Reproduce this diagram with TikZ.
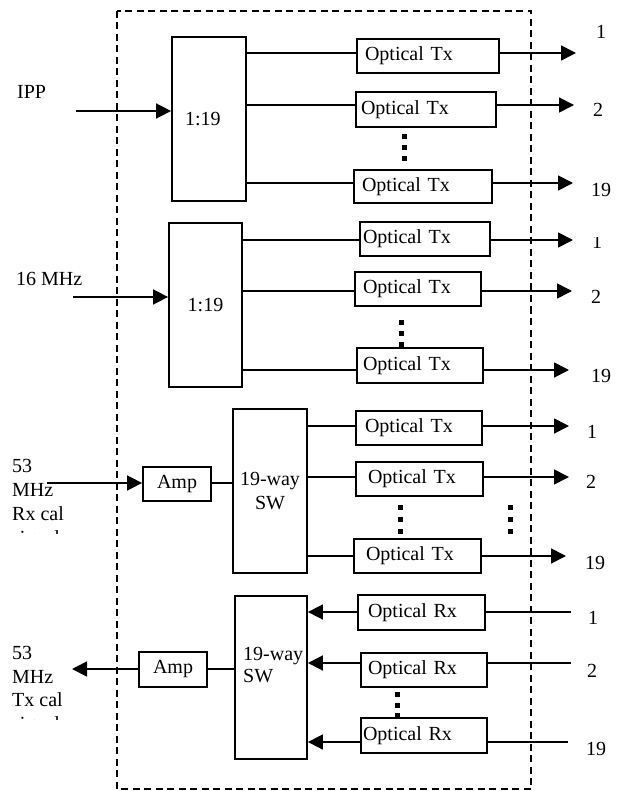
\documentclass[tikz,border=0pt]{standalone}
\usepackage{fontspec}
\setmainfont{Liberation Serif}
\usetikzlibrary{arrows.meta}
\newcommand\mydots[3]{\foreach \k in {0,1,2}{\fill (#1-2.5,#2+\k*#3) rectangle ++(5,5);}}
\begin{document}
\begin{tikzpicture}[x=1pt,y=-1pt,
  every node/.style={font=\fontsize{20}{24}\selectfont},
  ln/.style={line width=1.7pt},
  arr/.style={line width=1.7pt,-{Triangle[length=15pt,width=15pt]}},
  blk/.style={draw,line width=1.8pt,inner sep=0pt,minimum height=164pt,align=center},
  obox/.style={draw,line width=1.8pt,minimum height=34pt,align=left},
  abox/.style={draw,line width=1.8pt,minimum width=68pt,minimum height=34pt,inner sep=0pt},
  txt/.style={inner sep=0pt,anchor=base west},
  outerframe/.style={line width=1.6pt,dash pattern=on 7pt off 4.5pt},
]
\useasboundingbox (0,0) rectangle (627,791);
\draw[outerframe] (117,11) rectangle (531,789);

% ---------- Section 1: IPP ----------
\node[blk,minimum width=74pt,text width=48pt,inner xsep=13pt,align=left] (s1) at (209,119) {1:19};
\node[obox,minimum width=142pt,text width=126pt,inner xsep=8pt] (t11) at (428,56) {Optical Tx};
\node[obox,minimum width=140pt,minimum height=35pt,text width=130pt,inner xsep=5pt] (t12) at (426,109.5) {Optical Tx};
\node[obox,minimum width=138pt,minimum height=33pt,text width=122pt,inner xsep=8pt] (t13) at (423,186.5) {Optical Tx};
\coordinate (i1) at (76,111);
\coordinate (o11) at (576,53);
\coordinate (o12) at (574,105);
\coordinate (o13) at (573,183);
\draw[arr] (i1) -- (i1 -| s1.west);
\draw[ln] (s1.east |- o11) -- (t11.west |- o11);
\draw[ln] (s1.east |- o12) -- (t12.west |- o12);
\draw[ln] (s1.east |- o13) -- (t13.west |- o13);
\draw[arr] (t11.east |- o11) -- (o11);
\draw[arr] (t12.east |- o12) -- (o12);
\draw[arr] (t13.east |- o13) -- (o13);
\node[txt] (lipp) at (17,99) {IPP};
\node[txt] (n11) at (596,39) {1};
\node[txt] (n12) at (593,117) {2};
\node[txt] (n13) at (591,197) {19};
\mydots{404}{134}{11}

% ---------- Section 2: 16 MHz ----------
\node[blk,minimum width=73pt] (s2) at (205.5,305) {1:19};
\node[obox,minimum width=130pt,text width=124pt,inner xsep=3pt] (t21) at (425,239) {Optical Tx};
\node[obox,minimum width=126pt,text width=110pt,inner xsep=8pt] (t22) at (418,289) {Optical Tx};
\node[obox,minimum width=126pt,minimum height=35pt,text width=114pt,inner xsep=6pt] (t23) at (420,365.5) {Optical Tx};
\coordinate (i2) at (73,297);
\coordinate (o21) at (573,240);
\coordinate (o22) at (572,291);
\coordinate (o23) at (569,370);
\draw[arr] (i2) -- (i2 -| s2.west);
\draw[ln] (s2.east |- o21) -- (t21.west |- o21);
\draw[ln] (s2.east |- o22) -- (t22.west |- o22);
\draw[ln] (s2.east |- o23) -- (t23.west |- o23);
\draw[arr] (t21.east |- o21) -- (o21);
\draw[arr] (t22.east |- o22) -- (o22);
\draw[arr] (t23.east |- o23) -- (o23);
\node[txt] (l16) at (16,285) {16 MHz};
\begin{scope}
  \clip (580,238) rectangle (620,260);
  \node[txt] (n21) at (592,248) {1};
\end{scope}
\node[txt] (n22) at (591,303) {2};
\node[txt] (n23) at (591,382) {19};
\mydots{401}{320}{11}

% ---------- Section 3: 53 MHz Rx cal ----------
\node[abox] (a3) at (177,484) {Amp};
\node[blk,minimum width=74pt] (w3) at (270,491) {19-way\\SW};
\node[obox,minimum width=126pt,text width=108pt,inner xsep=9pt] (t31) at (419,428) {Optical Tx};
\node[obox,minimum width=127pt,text width=103pt,inner xsep=12pt] (t32) at (419.5,479) {Optical Tx};
\node[obox,minimum width=127pt,text width=103pt,inner xsep=12pt] (t33) at (417.5,556) {Optical Tx};
\coordinate (i3) at (47,483);
\coordinate (o31) at (569,426);
\coordinate (o32) at (569,477);
\coordinate (o33) at (566,556);
\draw[arr] (i3) -- (a3.west |- i3);
\draw[ln] (a3.east |- i3) -- (w3.west |- i3);
\draw[ln] (w3.east |- o31) -- (t31.west |- o31);
\draw[ln] (w3.east |- o32) -- (t32.west |- o32);
\draw[ln] (w3.east |- o33) -- (t33.west |- o33);
\draw[arr] (t31.east |- o31) -- (o31);
\draw[arr] (t32.east |- o32) -- (o32);
\draw[arr] (t33.east |- o33) -- (o33);
\node[txt] (l3a) at (12,472) {53};
\node[txt] (l3b) at (12,496) {MHz};
\node[txt] (l3c) at (12,520) {Rx cal};
\begin{scope}
  \clip (0,522) rectangle (110,533);
  \node[txt] (l3d) at (12,544) {signal};
\end{scope}
\node[txt] (n31) at (587,438) {1};
\node[txt] (n32) at (586,488) {2};
\node[txt] (n33) at (585,569) {19};
\mydots{400}{505}{12}
\mydots{510}{505}{12}

% ---------- Section 4: 53 MHz Tx cal ----------
\node[abox,minimum height=35pt] (a4) at (173,669.5) {Amp};
\node[blk,minimum width=72pt,minimum height=163pt] (w4) at (271,677.5) {};
\node[txt] (w4a) at (243,660) {19-way};
\node[txt] (w4b) at (243,682) {SW};
\node[obox,minimum width=127pt,minimum height=35pt,text width=107pt,inner xsep=10pt] (r41) at (421.5,612.5) {Optical Rx};
\node[obox,minimum width=126pt,text width=112pt,inner xsep=7pt] (r42) at (424,670) {Optical Rx};
\node[obox,minimum width=126pt,minimum height=35pt,text width=122pt,inner xsep=2pt] (r43) at (424,735.5) {Optical Rx};
\coordinate (e41) at (571,612);
\coordinate (e42) at (571,663);
\coordinate (e43) at (568,742);
\coordinate (o4) at (72,669);
\draw[ln] (e41) -- (r41.east |- e41);
\draw[ln] (e42) -- (r42.east |- e42);
\draw[ln] (e43) -- (r43.east |- e43);
\draw[arr] (r41.west |- e41) -- (w4.east |- e41);
\draw[arr] (r42.west |- e42) -- (w4.east |- e42);
\draw[arr] (r43.west |- e43) -- (w4.east |- e43);
\draw[ln] (w4.west |- o4) -- (a4.east |- o4);
\draw[arr] (a4.west |- o4) -- (o4);
\node[txt] (l4a) at (12,659) {53};
\node[txt] (l4b) at (12,683) {MHz};
\node[txt] (l4c) at (12,706) {Tx cal};
\begin{scope}
  \clip (0,708) rectangle (110,719);
  \node[txt] (l4d) at (12,730) {signal};
\end{scope}
\node[txt] (n41) at (588,624) {1};
\node[txt] (n42) at (587,677) {2};
\node[txt] (n43) at (586,755) {19};
\mydots{397}{692}{10.5}
\end{tikzpicture}
\end{document}
